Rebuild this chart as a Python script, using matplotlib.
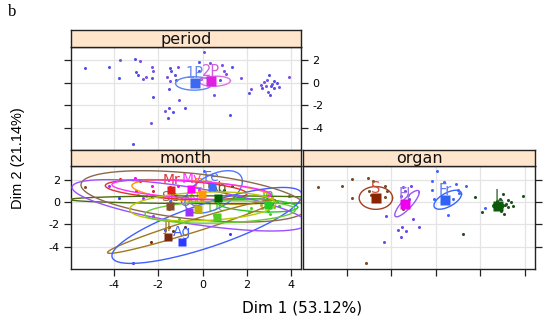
import numpy as np
import matplotlib
matplotlib.use("Agg")
import matplotlib.pyplot as plt

plt.rcParams['axes.unicode_minus'] = False
plt.rcParams['font.family'] = ['DejaVu Sans']

# ---------------- individuals (Dim 1, Dim 2) ----------------
dim1 = [-5.30, -4.22, -3.75, -3.07, -2.85, -3.78, -3.16, -2.27, -3.00, -2.22, -2.94, -2.58, -2.30, -2.70, -1.50,
        -1.48, -1.13, -1.41, -1.59, -1.25, -1.49, -1.22, -2.23, -1.05, -0.78, -1.52, -1.72, -1.36, -1.57, -2.35,
        0.05, -0.18, 0.35, 0.89, 1.33, 0.97, 1.05, 0.78, 0.52, -0.18, -0.08, 2.19,
        1.75, 1.22, 3.89, 3.02, 2.90, 3.24, 2.76, 3.36, 2.63, 3.08, 3.44, 3.24, 2.94, 3.06, 2.85, 2.70, 3.15, 2.09]
dim2 = [1.30, 1.45, 2.05, 2.12, 1.92, 0.40, -5.42, 1.43, 0.95, 1.01, 0.65, 0.54, 0.45, 0.36, -0.60,
        1.30, 1.40, 1.01, 0.50, 0.65, 0.12, 0.27, -1.24, -1.55, -2.23, -2.23, -2.52, -2.58, -3.12, -3.62,
        2.75, 1.88, 1.76, 1.58, 1.40, 1.07, 0.80, 0.29, -1.13, 1.04, 0.30, -0.54,
        0.45, -2.88, 0.55, 0.71, 0.23, 0.18, 0.05, 0.00, -0.24, -0.30, -0.36, -0.48, -0.84, -1.07, -0.30, -0.50, -0.15, -0.89]
organ = (["S"] * 15) + (["Fl"] * 15) + (["Fr"] * 12) + (["L"] * 18)
period = ["1P", "1P", "2P", "1P", "2P", "1P", "1P", "2P", "1P", "2P", "1P", "2P", "1P", "2P", "1P",
          "1P", "2P", "1P", "2P", "1P", "2P", "1P", "1P", "2P", "1P", "1P", "2P", "1P", "1P", "2P",
          "2P", "1P", "2P", "2P", "1P", "2P", "2P", "1P", "2P", "1P", "2P", "2P",
          "2P", "1P", "2P", "1P", "2P", "1P", "2P", "1P", "2P", "1P", "2P", "1P", "2P", "1P", "2P", "1P", "2P", "1P"]
month = ["Sp", "Oc", "Mr", "My", "Mr", "Ag", "Ag", "My", "Sp", "Mr", "Nv", "En", "Sp", "Oc", "Sp",
         "Mr", "My", "En", "Nv", "Oc", "Fe", "Ab", "Oc", "Dc", "Jl", "Jl", "Ag", "Jl", "Ag", "Jl",
         "Fe", "Fe", "Fe", "En", "Ab", "Ab", "En", "Ab", "Dc", "My", "Nv", "Dc",
         "Jn", "Ag", "Fe", "Jn", "Ab", "Jn", "Dc", "Jn", "Nv", "Jn", "Jn", "Dc", "Jn", "Dc", "Ab", "Nv", "Jn", "Dc"]

# ---------------- group summaries: period ----------------
period_levels = ["1P", "2P"]
period_cx = [-0.36, 0.36]
period_cy = [0.00, 0.14]
period_ell = [(-0.38, -0.06, 0.84, 0.60, 0.0), (0.56, 0.14, 0.70, 0.45, 0.1)]
period_col = ["#3D68F0", "#E020E0"]
period_ellcol = ["#5A86F0", "#E070E8"]
period_ptcol = ["#5050E6", "#7A4FE6"]
period_txtcol = ["#6A8AF0", "#D060D8"]

# ---------------- group summaries: organ ----------------
organ_levels = ["S", "Fl", "Fr", "L"]
organ_cx = [-2.70, -1.41, 0.42, 2.80]
organ_cy = [0.36, -0.14, 0.21, -0.36]
organ_ell = [(-2.70, 0.36, 0.75, 1.02, 0.0), (-1.30, -0.15, 0.55, 1.18, 0.85),
             (0.53, 0.20, 0.62, 0.85, 0.6), (2.80, -0.36, 0.25, 0.25, 0.0)]
organ_col = ["#8B2500", "#EE00EE", "#2F62F5", "#0B5A0B"]
organ_ellcol = ["#A0401E", "#9955F5", "#3366FF", "#0B5A0B"]
organ_ptcol = ["#7A4A20", "#6E46EE", "#4466FF", "#1E4E1E"]
organ_txtcol = ["#D05040", "#A070E8", "#5C7CF5", "#3A6A3A"]

# ---------------- group summaries: month ----------------
month_levels = ["En", "Fe", "Mr", "Ab", "My", "Jn", "Jl", "Ag", "Sp", "Oc", "Nv", "Dc"]
month_cx = [-0.01, 0.42, -1.41, 0.69, -0.51, 2.94, -1.56, -0.91, -1.49, -0.62, -0.21, 0.64]
month_cy = [0.75, 1.38, 1.11, 0.39, 1.20, -0.23, -3.13, -3.57, -0.38, -0.89, -0.59, -1.34]
month_ell = [(0.00, 0.90, 3.20, 1.10, -0.50),
             (0.50, 0.90, 1.30, 1.90, 0.50),
             (-1.20, 1.10, 3.20, 0.90, -0.40),
             (0.50, 0.20, 6.50, 0.35, -0.05),
             (-0.50, 1.10, 3.60, 0.90, -0.50),
             (2.50, -0.30, 1.80, 0.60, -0.30),
             (-0.50, -2.20, 3.80, 2.40, 0.97),
             (0.20, -2.10, 4.30, 3.40, 0.80),
             (-0.40, 0.50, 5.10, 2.30, -0.45),
             (-0.60, -0.30, 5.30, 2.30, -0.70),
             (0.00, -0.40, 3.30, 1.30, 0.20),
             (0.80, -0.90, 3.40, 1.00, 0.20)]
month_col = ["#FF9900", "#3D6BFF", "#E02020", "#006400", "#FF00FF", "#22CC22",
             "#7A2A10", "#2B3BFF", "#8B4A2B", "#9B30FF", "#C0B000", "#55CC22"]
month_ellcol = ["#FF9900", "#5078FF", "#E03030", "#4A6A10", "#FF30FF", "#22CC22",
                "#A07820", "#4060FF", "#8B6A4B", "#9B50FF", "#B8C800", "#66CC33"]

xticks = [-4, -2, 0, 2, 4]
yticks = [-4, -2, 0, 2]
xlim = (-5.95, 4.45)
ylim = (-6.0, 3.22)

W, H = 550, 321
fig = plt.figure(figsize=(W / 100, H / 100), dpi=100)


def fbox(x0, y0, x1, y1):
    return [x0 / W, 1 - y1 / H, (x1 - x0) / W, (y1 - y0) / H]


def ellipse(cx, cy, sx, sy, rho):
    t = np.linspace(0, 2 * np.pi, 200)
    x = cx + sx * np.cos(t)
    y = cy + sy * (rho * np.cos(t) + np.sqrt(1 - rho ** 2) * np.sin(t))
    return x, y


def base_axes(box):
    ax = fig.add_axes(fbox(*box))
    ax.set_xlim(*xlim)
    ax.set_ylim(*ylim)
    ax.set_xticks(xticks)
    ax.set_yticks(yticks)
    for xv in xticks:
        ax.axvline(xv, color="#E4E4E4", lw=0.9, zorder=0)
    for yv in yticks:
        ax.axhline(yv, color="#E4E4E4", lw=0.9, zorder=0)
    for s in ax.spines.values():
        s.set_color("#222222")
        s.set_linewidth(1.0)
    ax.tick_params(direction="out", length=5, width=0.9, color="#222222",
                   labelsize=8, pad=3,
                   bottom=False, top=False, left=False, right=False,
                   labelbottom=False, labeltop=False, labelleft=False, labelright=False)
    return ax


def strip(box, text):
    s = fig.add_axes(fbox(*box))
    s.set_facecolor("#FFE5CC")
    s.set_xticks([])
    s.set_yticks([])
    for sp in s.spines.values():
        sp.set_color("#222222")
        sp.set_linewidth(1.0)
    s.text(0.5, 0.45, text, ha="center", va="center", fontsize=11.5, color="#111111",
           transform=s.transAxes)


def draw_panel(ax, groups, levels, cx, cy, ells, col, ellcol, ptcol, txtcol, sqsize, lw,
               txtsize=10.5, txtz=5):
    for i, lev in enumerate(levels):
        xs = [dim1[k] for k in range(len(dim1)) if groups[k] == lev]
        ys = [dim2[k] for k in range(len(dim2)) if groups[k] == lev]
        ax.plot(xs, ys, "o", ms=2.2, color=ptcol[i], mec="none", zorder=2)
    for i, lev in enumerate(levels):
        ex, ey = ellipse(*ells[i])
        ax.plot(ex, ey, color=ellcol[i], lw=lw, zorder=3)
    for i, lev in enumerate(levels):
        ax.plot(cx[i], cy[i], "s", ms=sqsize, color=col[i], mec="none", zorder=4)
        ax.text(cx[i], cy[i] + 0.85, lev, color=txtcol[i], fontsize=txtsize,
                ha="center", va="center", zorder=txtz)


# period panel
axp = base_axes((71, 46.7, 301, 150))
axp.tick_params(top=True, left=True, right=True, labelright=True)
strip((71, 30, 301, 46.7), "period")
draw_panel(axp, period, period_levels, period_cx, period_cy, period_ell,
           period_col, period_ellcol, period_ptcol, period_txtcol, 6.5, 1.0)

# month panel
axm = base_axes((71, 166, 301, 269))
axm.tick_params(bottom=True, left=True, labelbottom=True, labelleft=True)
strip((71, 150, 301, 166), "month")
draw_panel(axm, month, month_levels, month_cx, month_cy, month_ell,
           month_col, month_ellcol, month_col, month_ellcol, 6.0, 1.0,
           txtsize=10, txtz=2.5)

# organ panel
axo = base_axes((303.5, 166, 535, 269))
axo.tick_params(bottom=True, right=True)
strip((303.5, 150, 535, 166), "organ")
draw_panel(axo, organ, organ_levels, organ_cx, organ_cy, organ_ell,
           organ_col, organ_ellcol, organ_ptcol, organ_txtcol, 6.5, 1.0)

fig.text(302 / W, 1 - 308 / H, "Dim 1 (53.12%)", ha="center", va="center", fontsize=11)
fig.text(18 / W, 1 - 158 / H, "Dim 2 (21.14%)", ha="center", va="center",
         rotation=90, fontsize=10.5, family="Liberation Sans")
fig.text(8 / W, 1 - 12 / H, "b", ha="left", va="center", fontsize=12, family="Liberation Serif")

fig.savefig("out.png", dpi=100)
